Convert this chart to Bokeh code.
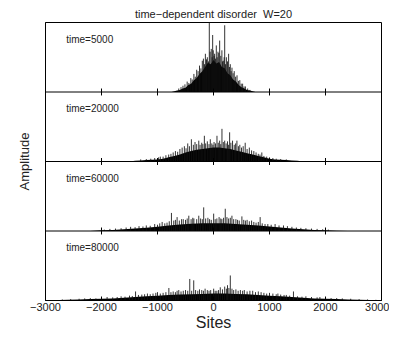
from bokeh.plotting import figure
from bokeh.models import Label, Span, FixedTicker, Range1d
from bokeh.embed import file_html
from bokeh.resources import INLINE

FONT = "Liberation Sans"

panel_labels = ["time=5000", "time=20000", "time=60000", "time=80000"]
x_ticks = [-3000, -2000, -1000, 0, 1000, 2000, 3000]
x_tick_labels = ["\u22123000", "\u22122000", "\u22121000", "0", "1000", "2000", "3000"]
inner_ticks = [-2000, -1000, 0, 1000, 2000]

# ---- time = 5000 : dense body (site, amplitude) and spikes (site, amplitude) ----
body_5000 = [(-750, 0.0), (-700, 0.01), (-650, 0.02), (-600, 0.03), (-550, 0.05), (-500, 0.06), (-450, 0.1),
             (-400, 0.12), (-350, 0.17), (-300, 0.2), (-250, 0.26), (-200, 0.3), (-150, 0.36), (-100, 0.42),
             (-50, 0.4), (0, 0.46), (50, 0.41), (100, 0.43), (150, 0.36), (200, 0.34), (250, 0.27), (300, 0.24),
             (350, 0.18), (400, 0.15), (450, 0.1), (500, 0.07), (550, 0.05), (600, 0.03), (650, 0.02),
             (700, 0.01), (750, 0.0)]
spikes_5000 = [(-620, 0.05), (-580, 0.07), (-545, 0.09), (-510, 0.11), (-470, 0.15), (-440, 0.13), (-405, 0.2),
               (-380, 0.18), (-350, 0.26), (-325, 0.22), (-300, 0.32), (-275, 0.3), (-250, 0.38), (-225, 0.34),
               (-200, 0.45), (-180, 0.48), (-160, 0.4), (-145, 0.55), (-125, 0.47), (-110, 0.5), (-90, 0.44),
               (-75, 1.1), (-60, 0.58), (-40, 0.62), (-25, 0.5), (-15, 0.82), (-5, 0.6), (10, 0.52), (20, 0.55),
               (35, 0.48), (50, 0.67), (65, 0.5), (80, 0.58), (95, 0.56), (110, 0.74), (130, 0.52), (150, 0.6),
               (160, 0.44), (175, 0.45), (190, 0.5), (200, 0.96), (215, 0.4), (230, 0.5), (250, 0.44), (270, 0.55),
               (285, 0.36), (300, 0.4), (315, 0.3), (330, 0.35), (350, 0.27), (370, 0.3), (395, 0.22), (420, 0.24),
               (445, 0.16), (470, 0.17), (495, 0.12), (520, 0.12), (545, 0.08), (570, 0.08), (610, 0.05), (650, 0.03)]

# ---- time = 20000 ----
body_20000 = [(-1500, 0.0), (-1400, 0.01), (-1300, 0.015), (-1200, 0.02), (-1100, 0.025), (-1000, 0.03),
              (-900, 0.04), (-800, 0.06), (-700, 0.08), (-600, 0.1), (-500, 0.13), (-400, 0.15), (-300, 0.17),
              (-200, 0.18), (-100, 0.19), (0, 0.2), (100, 0.2), (200, 0.19), (300, 0.18), (400, 0.16), (500, 0.14),
              (600, 0.12), (700, 0.1), (800, 0.08), (900, 0.06), (1000, 0.04), (1100, 0.03), (1200, 0.025),
              (1300, 0.02), (1400, 0.015), (1500, 0.01), (1600, 0.0)]
spikes_20000 = [(-1300, 0.03), (-1200, 0.035), (-1120, 0.04), (-1050, 0.05), (-980, 0.06), (-950, 0.07),
                (-900, 0.07), (-850, 0.09), (-800, 0.1), (-760, 0.11), (-720, 0.13), (-680, 0.15), (-640, 0.14),
                (-600, 0.18), (-560, 0.2), (-520, 0.22), (-490, 0.19), (-460, 0.26), (-430, 0.22), (-395, 0.32),
                (-360, 0.24), (-330, 0.28), (-300, 0.25), (-263, 0.3), (-240, 0.24), (-210, 0.27), (-190, 0.25),
                (-163, 0.37), (-140, 0.26), (-110, 0.29), (-80, 0.25), (-57, 0.32), (-30, 0.26), (-10, 0.24),
                (10, 0.28), (35, 0.26), (62, 0.37), (85, 0.27), (110, 0.3), (130, 0.25), (151, 0.47), (175, 0.28),
                (200, 0.3), (225, 0.26), (250, 0.29), (270, 0.24), (288, 0.42), (310, 0.27), (340, 0.3),
                (370, 0.24), (395, 0.26), (418, 0.3), (445, 0.22), (470, 0.24), (500, 0.2), (530, 0.22),
                (566, 0.27), (600, 0.18), (640, 0.2), (680, 0.16), (720, 0.15), (760, 0.13), (800, 0.11),
                (830, 0.1), (863, 0.13), (900, 0.08), (950, 0.07), (1000, 0.06), (1060, 0.05), (1120, 0.04),
                (1200, 0.035), (1300, 0.03)]

# ---- time = 60000 ----
body_60000 = [(-2200, 0.0), (-2000, 0.01), (-1800, 0.015), (-1600, 0.025), (-1400, 0.035), (-1200, 0.045),
              (-1000, 0.06), (-800, 0.08), (-600, 0.095), (-400, 0.105), (-200, 0.11), (0, 0.11), (200, 0.11),
              (400, 0.1), (600, 0.09), (800, 0.08), (1000, 0.065), (1200, 0.05), (1400, 0.035), (1600, 0.025),
              (1800, 0.015), (2000, 0.01), (2200, 0.005), (2400, 0.0)]
spikes_60000 = [(-1950, 0.02), (-1850, 0.03), (-1750, 0.035), (-1650, 0.04), (-1560, 0.05), (-1480, 0.06),
                (-1400, 0.055), (-1330, 0.07), (-1260, 0.065), (-1200, 0.08), (-1130, 0.075), (-1050, 0.1),
                (-1000, 0.09), (-960, 0.11), (-917, 0.13), (-870, 0.11), (-830, 0.12), (-790, 0.14), (-751, 0.26),
                (-710, 0.15), (-680, 0.16), (-650, 0.2), (-610, 0.15), (-570, 0.17), (-540, 0.17), (-500, 0.16),
                (-470, 0.18), (-441, 0.22), (-400, 0.17), (-370, 0.19), (-350, 0.18), (-300, 0.17), (-263, 0.22),
                (-230, 0.18), (-200, 0.17), (-175, 0.34), (-140, 0.18), (-100, 0.19), (-70, 0.17), (-40, 0.16),
                (3, 0.25), (30, 0.17), (60, 0.18), (100, 0.2), (130, 0.18), (150, 0.17), (180, 0.19), (210, 0.32),
                (240, 0.2), (270, 0.18), (300, 0.19), (329, 0.22), (360, 0.17), (400, 0.17), (430, 0.16),
                (460, 0.15), (507, 0.21), (540, 0.16), (570, 0.15), (600, 0.16), (640, 0.14), (680, 0.15),
                (720, 0.13), (760, 0.12), (800, 0.13), (833, 0.2), (870, 0.11), (920, 0.1), (970, 0.1),
                (1030, 0.09), (1100, 0.1), (1170, 0.08), (1250, 0.08), (1320, 0.07), (1400, 0.06), (1480, 0.05),
                (1560, 0.045), (1650, 0.04), (1750, 0.035), (1850, 0.03), (1950, 0.025), (2050, 0.02)]

# ---- time = 80000 ----
body_80000 = [(-2900, 0.005), (-2600, 0.01), (-2400, 0.015), (-2200, 0.02), (-2000, 0.025), (-1800, 0.03),
              (-1600, 0.04), (-1400, 0.05), (-1200, 0.06), (-1000, 0.07), (-800, 0.08), (-600, 0.085),
              (-400, 0.09), (-200, 0.095), (0, 0.1), (200, 0.1), (400, 0.095), (600, 0.09), (800, 0.08),
              (1000, 0.07), (1200, 0.06), (1400, 0.05), (1600, 0.04), (1800, 0.03), (2000, 0.025), (2200, 0.02),
              (2400, 0.015), (2600, 0.01), (2800, 0.008), (3000, 0.005)]
spikes_80000 = [(-2700, 0.015), (-2550, 0.02), (-2400, 0.025), (-2300, 0.03), (-2200, 0.035), (-2100, 0.03),
                (-2000, 0.04), (-1900, 0.05), (-1800, 0.045), (-1720, 0.05), (-1650, 0.06), (-1580, 0.055),
                (-1500, 0.07), (-1450, 0.065), (-1392, 0.13), (-1340, 0.08), (-1280, 0.085), (-1230, 0.09),
                (-1180, 0.1), (-1130, 0.09), (-1080, 0.1), (-1030, 0.11), (-1000, 0.12), (-950, 0.1), (-900, 0.11),
                (-850, 0.12), (-797, 0.18), (-760, 0.12), (-720, 0.13), (-680, 0.12), (-650, 0.14), (-620, 0.15),
                (-580, 0.13), (-540, 0.14), (-500, 0.15), (-460, 0.14), (-424, 0.31), (-390, 0.14), (-353, 0.29),
                (-320, 0.15), (-280, 0.14), (-250, 0.16), (-210, 0.15), (-180, 0.14), (-150, 0.17), (-110, 0.15),
                (-80, 0.14), (-50, 0.15), (3, 0.17), (30, 0.14), (60, 0.14), (90, 0.15), (121, 0.19), (160, 0.16),
                (200, 0.2), (230, 0.17), (250, 0.22), (275, 0.18), (300, 0.36), (330, 0.17), (360, 0.15),
                (400, 0.16), (440, 0.14), (480, 0.15), (520, 0.14), (550, 0.15), (600, 0.13), (650, 0.14),
                (700, 0.14), (750, 0.12), (800, 0.13), (850, 0.12), (900, 0.11), (950, 0.1), (1000, 0.11),
                (1060, 0.1), (1120, 0.09), (1150, 0.1), (1200, 0.085), (1260, 0.08), (1300, 0.08), (1360, 0.07),
                (1428, 0.13), (1500, 0.06), (1580, 0.055), (1650, 0.06), (1750, 0.05), (1850, 0.045), (1900, 0.05),
                (2000, 0.04), (2100, 0.035), (2200, 0.035), (2300, 0.03), (2450, 0.025), (2600, 0.02),
                (2750, 0.015), (2900, 0.01)]

panels = [(body_5000, spikes_5000), (body_20000, spikes_20000),
          (body_60000, spikes_60000), (body_80000, spikes_80000)]
n = len(panels)

p = figure(width=389, height=333, output_backend="svg", toolbar_location=None,
           x_range=Range1d(-3000, 3000), y_range=Range1d(0, n),
           min_border_left=45, min_border_right=8, min_border_top=22, min_border_bottom=30)
p.title.text = "time\u2212dependent disorder\u00a0 W=20"
p.title.align = "center"
p.title.text_font = FONT
p.title.text_font_size = "11px"
p.title.text_font_style = "normal"
p.title.text_color = "#222222"
p.title.standoff = 5
p.title.offset = 0
p.xgrid.visible = False
p.ygrid.visible = False
p.outline_line_color = "black"
p.background_fill_color = "white"
p.border_fill_color = "white"

for i, (body, spikes) in enumerate(panels):
    off = n - 1 - i
    bs = [s for s, _ in body]
    bv = [off + v for _, v in body]
    ss = [s for s, _ in spikes]
    sv = [off + v for _, v in spikes]
    p.varea(x=bs, y1=[off] * len(bs), y2=bv, fill_color="black")
    p.segment(x0=ss, x1=ss, y0=[off] * len(ss), y1=sv,
              line_color="#111111", line_width=1, line_alpha=0.85)
    p.add_layout(Label(x=-2630, y=off + 1 - 0.16, text=panel_labels[i], text_font=FONT,
                       text_font_size="10px", text_color="#222222", text_baseline="top"))
    if off > 0:
        p.add_layout(Span(location=off, dimension="width", line_color="black", line_width=1))
        p.segment(x0=inner_ticks, x1=inner_ticks, y0=[off - 0.05] * len(inner_ticks),
                  y1=[off + 0.05] * len(inner_ticks), line_color="black", line_width=1)

xa = p.xaxis[0]
xa.ticker = FixedTicker(ticks=x_ticks)
xa.major_label_overrides = {t: l for t, l in zip(x_ticks, x_tick_labels)}
xa.major_tick_in = 4
xa.major_tick_out = 0
xa.minor_tick_line_color = None
xa.major_label_standoff = 2
xa.major_label_text_font = FONT
xa.major_label_text_font_size = "11px"
xa.major_label_text_color = "#222222"
xa.axis_label = "Sites"
xa.axis_label_text_font = FONT
xa.axis_label_text_font_size = "16px"
xa.axis_label_text_font_style = "normal"
xa.axis_label_text_color = "#222222"
xa.axis_label_standoff = 0
xa.axis_line_color = "black"

ya = p.yaxis[0]
ya.ticker = FixedTicker(ticks=[])
ya.major_tick_line_color = None
ya.minor_tick_line_color = None
ya.major_label_text_font_size = "0px"
ya.axis_label = "Amplitude"
ya.axis_label_text_font = FONT
ya.axis_label_text_font_size = "13px"
ya.axis_label_text_font_style = "normal"
ya.axis_label_text_color = "#222222"
ya.axis_label_standoff = 14
ya.axis_line_color = "black"

open("out.html", "w").write(file_html(p, INLINE))
